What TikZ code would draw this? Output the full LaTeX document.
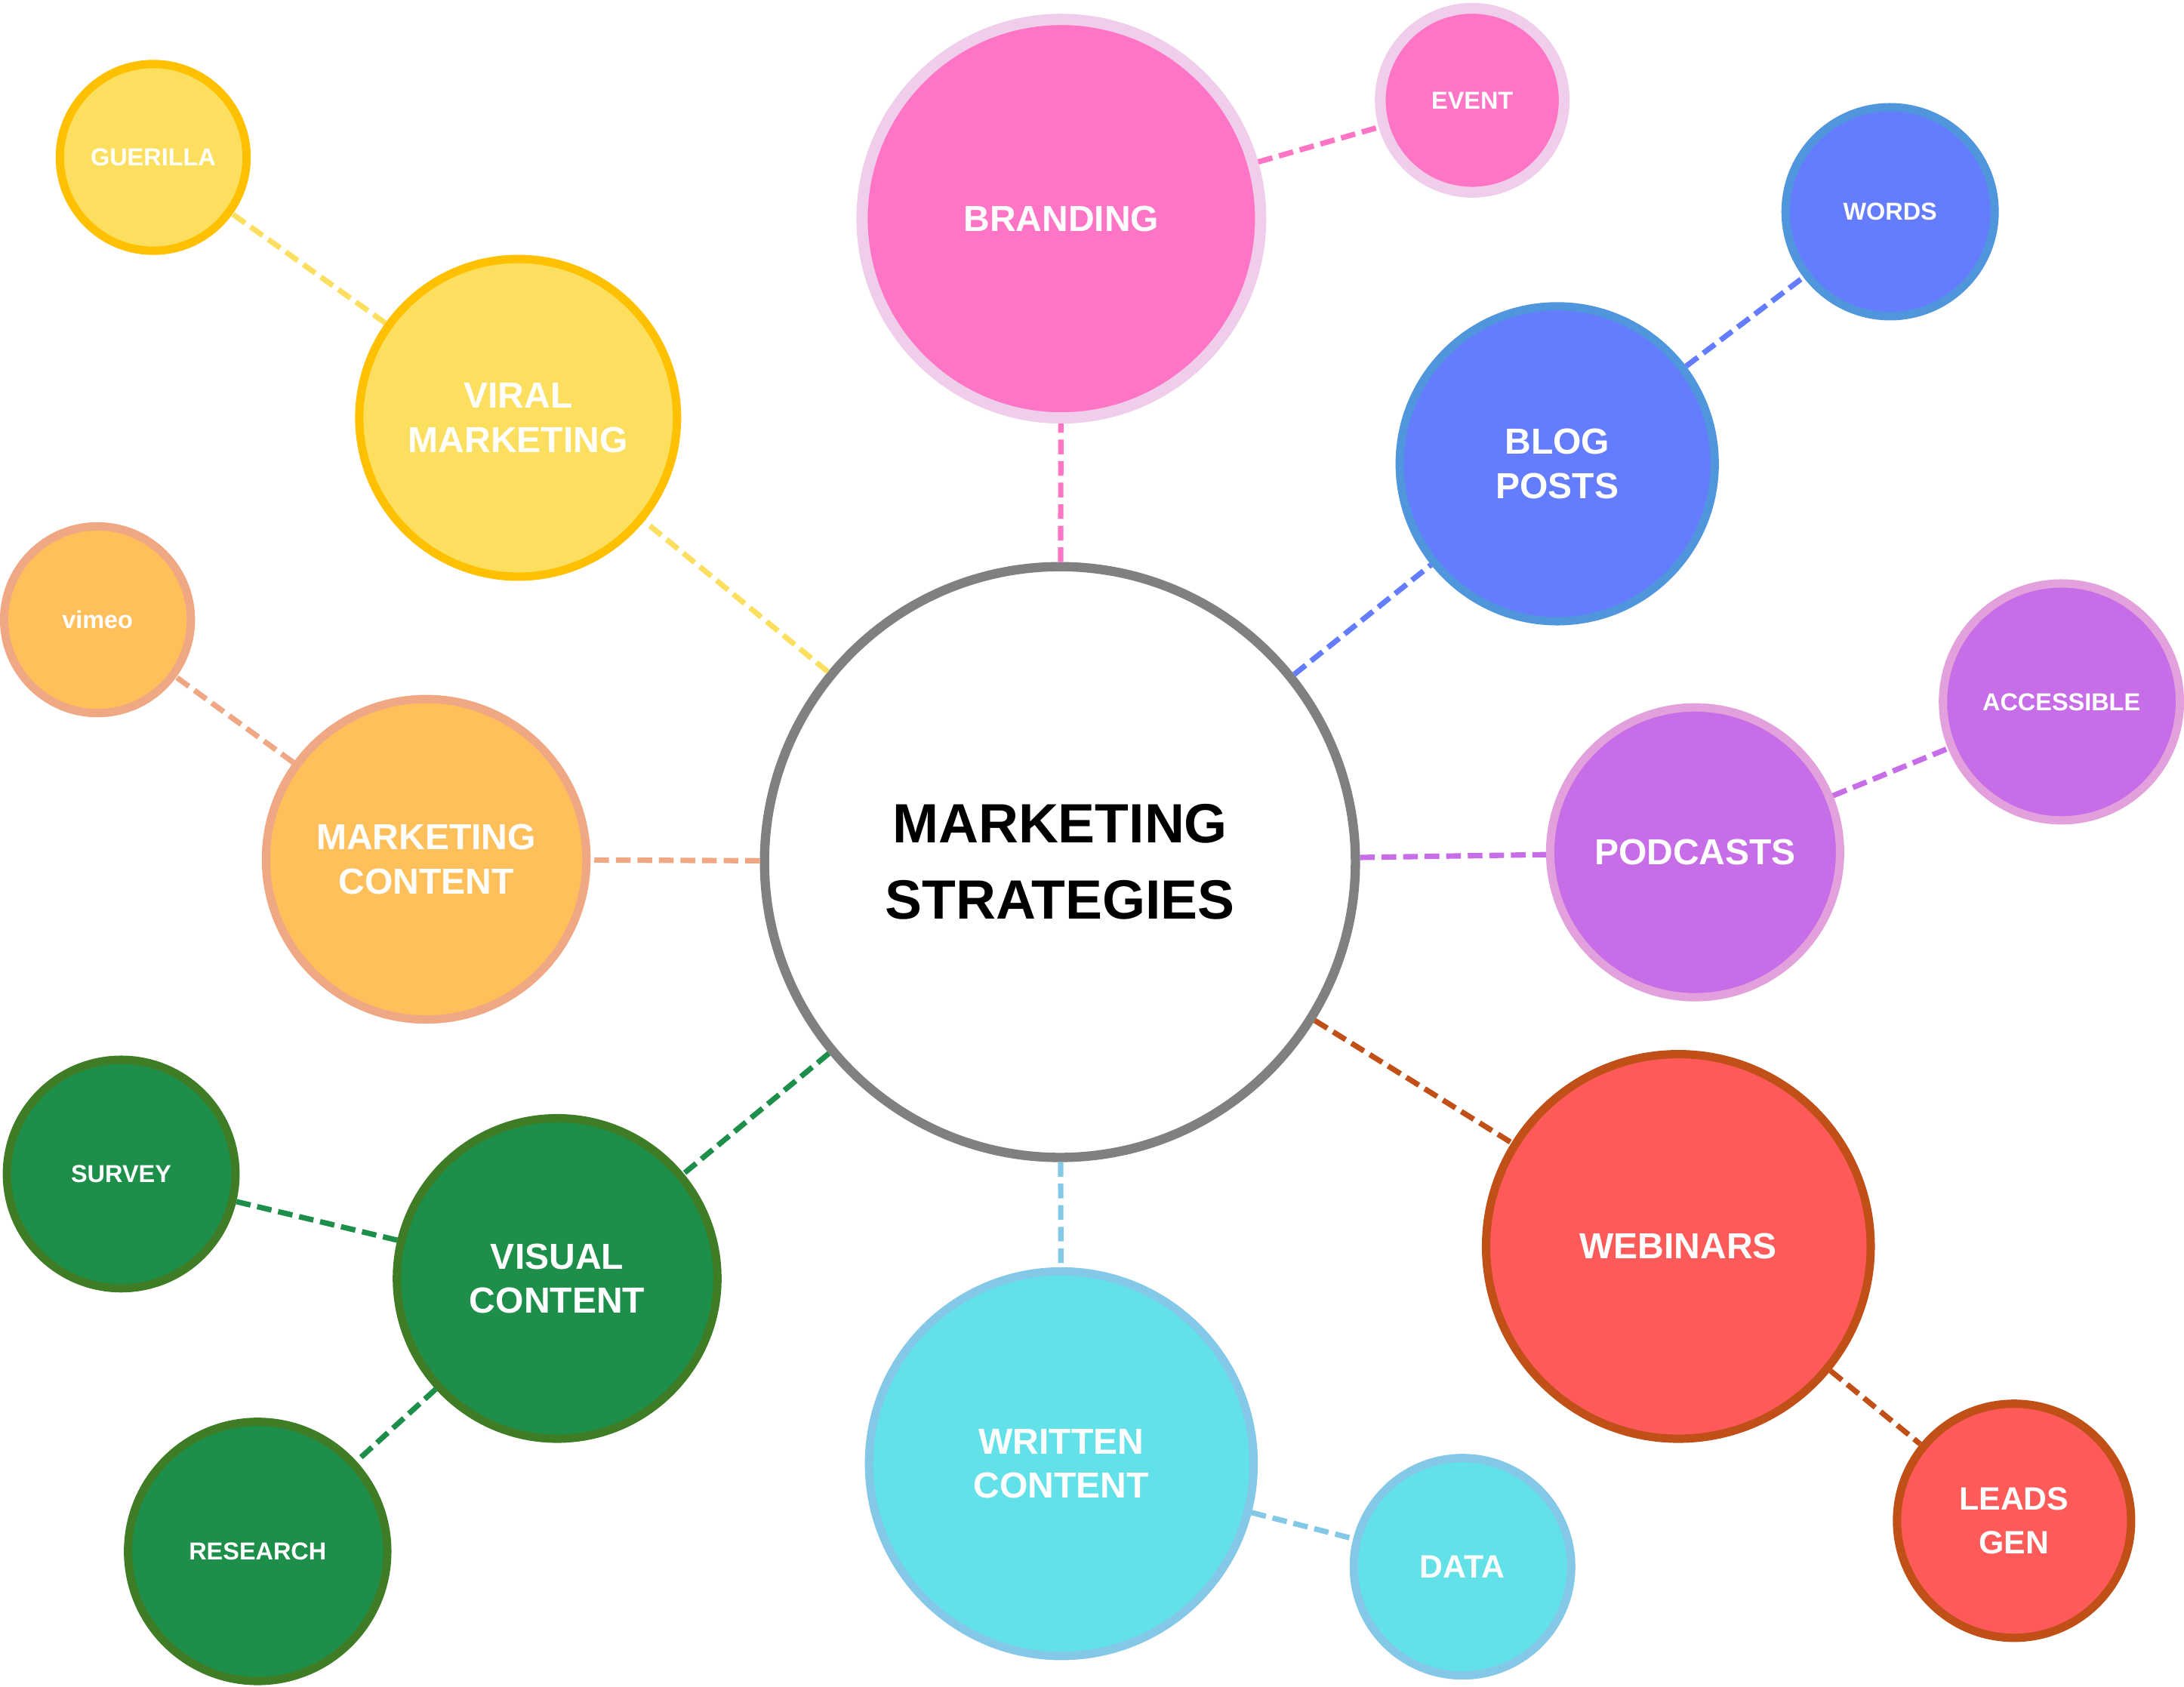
\documentclass[tikz,border=0pt]{standalone}
\usepackage{fontspec}
\setmainfont{Liberation Sans}
\usepackage{tikz}

\definecolor{pinkfill}{HTML}{FF75C6}
\definecolor{pinkline}{HTML}{F0CDEB}
\definecolor{yelfill}{HTML}{FDDF60}
\definecolor{yelline}{HTML}{FFC000}
\definecolor{orfill}{HTML}{FFBF5A}
\definecolor{orline}{HTML}{EFA883}
\definecolor{bluefill}{HTML}{637DFE}
\definecolor{blueline}{HTML}{4F96DC}
\definecolor{purfill}{HTML}{C86DE8}
\definecolor{purline}{HTML}{E2A0DD}
\definecolor{grfill}{HTML}{1E8F4A}
\definecolor{grline}{HTML}{3E7D25}
\definecolor{cyfill}{HTML}{62E1E8}
\definecolor{cyline}{HTML}{84C8E8}
\definecolor{redfill}{HTML}{FF5A5A}
\definecolor{redline}{HTML}{C05018}
\definecolor{hubline}{HTML}{808080}

\tikzset{
  bub/.style={circle, draw, line width=1.7pt, text=white, align=center, inner sep=0pt},
  branch/.style={bub, font=\bfseries\fontsize{7.4}{9}\selectfont},
  leaf/.style={bub, font=\bfseries\fontsize{5}{6}\selectfont},
  midleaf/.style={bub, font=\bfseries\fontsize{6.6}{9}\selectfont},
  link/.style={dash pattern=on 3pt off 1.4pt, line width=1.1pt},
}

\begin{document}
\begin{tikzpicture}[x=0.01cm, y=-0.01cm]
\useasboundingbox (0,0) rectangle (1568,1211);
\fill[white] (0,0) rectangle (1568,1211);

% centre
\node (hub) at (761,619) [circle, draw=hubline, fill=white, line width=1.9pt, minimum size=4.24cm, align=center, inner sep=0pt, font=\bfseries\fontsize{11.3}{15.6}\selectfont] {MARKETING\\STRATEGIES};

% branches
\node (brand) at (762,157) [branch, fill=pinkfill, draw=pinkline, line width=2.3pt, minimum size=2.86cm] {BRANDING};
\node (viral) at (372,300) [branch, fill=yelfill, draw=yelline, minimum size=2.28cm] {VIRAL\\MARKETING};
\node (blog) at (1118,333) [branch, fill=bluefill, draw=blueline, minimum size=2.26cm] {BLOG\\POSTS};
\node (mcont) at (306,617) [branch, fill=orfill, draw=orline, minimum size=2.30cm] {MARKETING\\CONTENT};
\node (pod) at (1217,612) [branch, fill=purfill, draw=purline, minimum size=2.08cm] {PODCASTS};
\node (visual) at (400,918) [branch, fill=grfill, draw=grline, minimum size=2.30cm] {VISUAL\\CONTENT};
\node (written) at (762,1051) [branch, fill=cyfill, draw=cyline, minimum size=2.76cm] {WRITTEN\\CONTENT};
\node (web) at (1205,895) [branch, fill=redfill, draw=redline, minimum size=2.76cm] {WEBINARS};

% leaves
\node (event) at (1057,72) [leaf, fill=pinkfill, draw=pinkline, line width=2.2pt, minimum size=1.32cm] {EVENT};
\node (guer) at (110,113) [leaf, fill=yelfill, draw=yelline, minimum size=1.34cm] {GUERILLA};
\node (words) at (1357,152) [leaf, fill=bluefill, draw=blueline, minimum size=1.50cm] {WORDS};
\node (vimeo) at (70,445) [leaf, fill=orfill, draw=orline, minimum size=1.34cm] {vimeo};
\node (access) at (1480,504) [leaf, fill=purfill, draw=purline, minimum size=1.70cm] {ACCESSIBLE};
\node (survey) at (87,843) [leaf, fill=grfill, draw=grline, minimum size=1.64cm] {SURVEY};
\node (research) at (185,1114) [leaf, fill=grfill, draw=grline, minimum size=1.86cm] {RESEARCH};
\node (data) at (1050,1125) [midleaf, fill=cyfill, draw=cyline, minimum size=1.56cm] {DATA};
\node (leads) at (1446,1092) [midleaf, fill=redfill, draw=redline, minimum size=1.68cm] {LEADS\\GEN};

% connectors
\draw[link, pinkfill] (hub) -- (brand);
\draw[link, pinkfill] (brand) -- (event);
\draw[link, yelfill] (hub) -- (viral);
\draw[link, yelfill] (viral) -- (guer);
\draw[link, bluefill] (hub) -- (blog);
\draw[link, bluefill] (blog) -- (words);
\draw[link, orline] (hub) -- (mcont);
\draw[link, orline] (mcont) -- (vimeo);
\draw[link, purfill] (hub) -- (pod);
\draw[link, purfill] (pod) -- (access);
\draw[link, grfill] (hub) -- (visual);
\draw[link, grfill] (visual) -- (survey);
\draw[link, grfill] (visual) -- (research);
\draw[link, cyline] (hub) -- (written);
\draw[link, cyline] (written) -- (data);
\draw[link, redline] (hub) -- (web);
\draw[link, redline] (web) -- (leads);
\end{tikzpicture}
\end{document}
